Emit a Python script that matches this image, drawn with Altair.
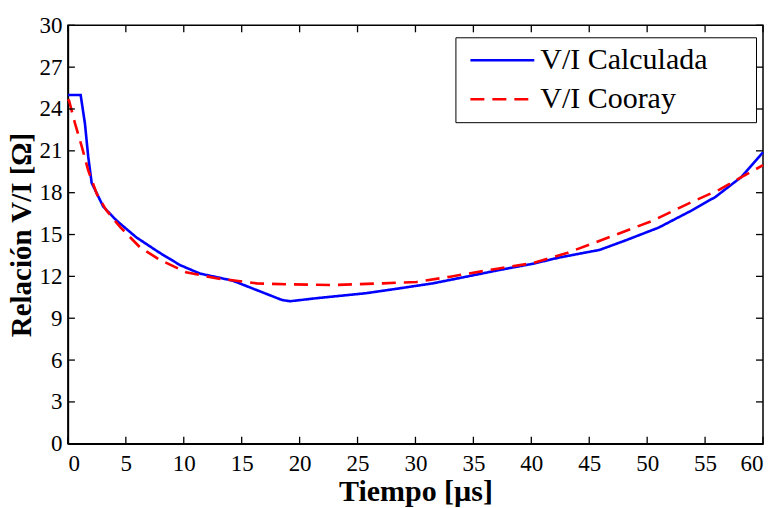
import altair as alt
import pandas as pd

# ---- data ----
t_calc = [0, 1.1, 1.47, 1.75, 2.05, 3.05, 4.2, 5.9, 7.9, 9.7, 11.4, 14.2, 18.5, 19.2,
          21.4, 25.7, 28.6, 31.5, 34.4, 37.2, 40.1, 42.4, 45.9, 48.2, 51.0, 53.9,
          55.9, 57.4, 58.1, 60]
v_calc = [25, 25, 22.95, 20.6, 18.7, 17.0, 16.0, 14.8, 13.7, 12.8, 12.2, 11.7, 10.3, 10.22,
          10.43, 10.79, 11.14, 11.5, 11.98, 12.45, 12.9, 13.35, 13.9, 14.6, 15.5, 16.75,
          17.7, 18.66, 19.1, 20.9]

t_coo = [0, 0.1, 0.6, 1.2, 1.75, 2.5, 3.3, 4.5, 6.2, 7.9, 10.2, 12.8, 16.3, 19.0,
         22.9, 27.2, 30.1, 33.0, 37.2, 40.1, 43.0, 46.7, 50.5, 53.9, 56.2, 58.1, 60]
v_coo = [24.7, 24.6, 23.0, 21.3, 19.6, 17.9, 16.75, 15.55, 14.1, 13.2, 12.3, 11.86, 11.5, 11.43,
         11.38, 11.5, 11.6, 11.98, 12.57, 12.95, 13.65, 14.8, 16.0, 17.35, 18.2, 19.1, 19.97]

series = ["V/I Calculada", "V/I Cooray"]
x_ticks = [0, 5, 10, 15, 20, 25, 30, 35, 40, 45, 50, 55, 60]
y_ticks = [0, 3, 6, 9, 12, 15, 18, 21, 24, 27, 30]

W, H = 696, 419
TL = 7  # tick length (px)
FONT = "Times New Roman, Liberation Serif, Tinos, DejaVu Serif, serif"

df = pd.concat([
    pd.DataFrame({"t": t_calc, "v": v_calc, "serie": series[0]}),
    pd.DataFrame({"t": t_coo, "v": v_coo, "serie": series[1]}),
], ignore_index=True)
xt = pd.DataFrame({"x": x_ticks})
yt = pd.DataFrame({"y": y_ticks})

xs = alt.Scale(domain=[0, 60], nice=False, zero=False)
ys = alt.Scale(domain=[0, 30], nice=False, zero=False)

x_axis = alt.Axis(title="Tiempo [µs]", values=x_ticks, ticks=False, grid=False,
                  labelFont=FONT, labelFontSize=23, labelColor="black",
                  titleFont=FONT, titleFontSize=30, titleFontWeight="bold",
                  titleColor="black", labelPadding=9, titlePadding=1,
                  domainColor="black", domainWidth=1.5)
y_axis = alt.Axis(title="Relación V/I [Ω]", values=y_ticks, ticks=False, grid=False,
                  labelFont=FONT, labelFontSize=23, labelColor="black",
                  titleFont=FONT, titleFontSize=29, titleFontWeight="bold",
                  titleColor="black", labelPadding=6, titlePadding=2,
                  domainColor="black", domainWidth=1.5)

lines = alt.Chart(df).mark_line(strokeWidth=2.6, strokeCap="butt").encode(
    x=alt.X("t:Q", scale=xs, axis=x_axis),
    y=alt.Y("v:Q", scale=ys, axis=y_axis),
    color=alt.Color("serie:N",
                    scale=alt.Scale(domain=series, range=["#0000ff", "#ff0000"]),
                    legend=alt.Legend(title=None, orient="none", legendX=388, legendY=12,
                                      symbolType="M-4,0H4", symbolSize=256,
                                      symbolOffset=24, symbolStrokeWidth=2.6,
                                      labelFont=FONT, labelFontSize=30, labelColor="black",
                                      labelExpr="datum.label + '\\u2003\\u2006\\u2006\\u200b'",
                                      padding=8, rowPadding=9, labelOffset=23,
                                      strokeColor="black", fillColor="white",
                                      cornerRadius=0, labelLimit=400)),
    strokeDash=alt.StrokeDash("serie:N",
                              scale=alt.Scale(domain=series, range=[[1, 0], [14, 8]]),
                              legend=None),
    order=alt.Order("t:Q"),
)

tick_b = alt.Chart(xt).mark_rule(color="black", strokeWidth=1.3).encode(
    x=alt.X("x:Q", scale=xs, axis=x_axis), y=alt.value(H), y2=alt.value(H - TL))
tick_t = alt.Chart(xt).mark_rule(color="black", strokeWidth=1.3).encode(
    x=alt.X("x:Q", scale=xs, axis=x_axis), y=alt.value(0), y2=alt.value(TL))
tick_l = alt.Chart(yt).mark_rule(color="black", strokeWidth=1.3).encode(
    y=alt.Y("y:Q", scale=ys, axis=y_axis), x=alt.value(0), x2=alt.value(TL))
tick_r = alt.Chart(yt).mark_rule(color="black", strokeWidth=1.3).encode(
    y=alt.Y("y:Q", scale=ys, axis=y_axis), x=alt.value(W), x2=alt.value(W - TL))

chart = alt.layer(lines, tick_b, tick_t, tick_l, tick_r).properties(
    width=W, height=H,
    autosize=alt.AutoSizeParams(type="none"),
    padding={"left": 60, "top": 17, "right": 4, "bottom": 70},
).configure(
    font=FONT
).configure_view(
    stroke="black", strokeWidth=1.5
).configure_axis(
    labelFont=FONT, titleFont=FONT
)

chart.save("out.html", embed_options={"renderer": "svg", "actions": False})
